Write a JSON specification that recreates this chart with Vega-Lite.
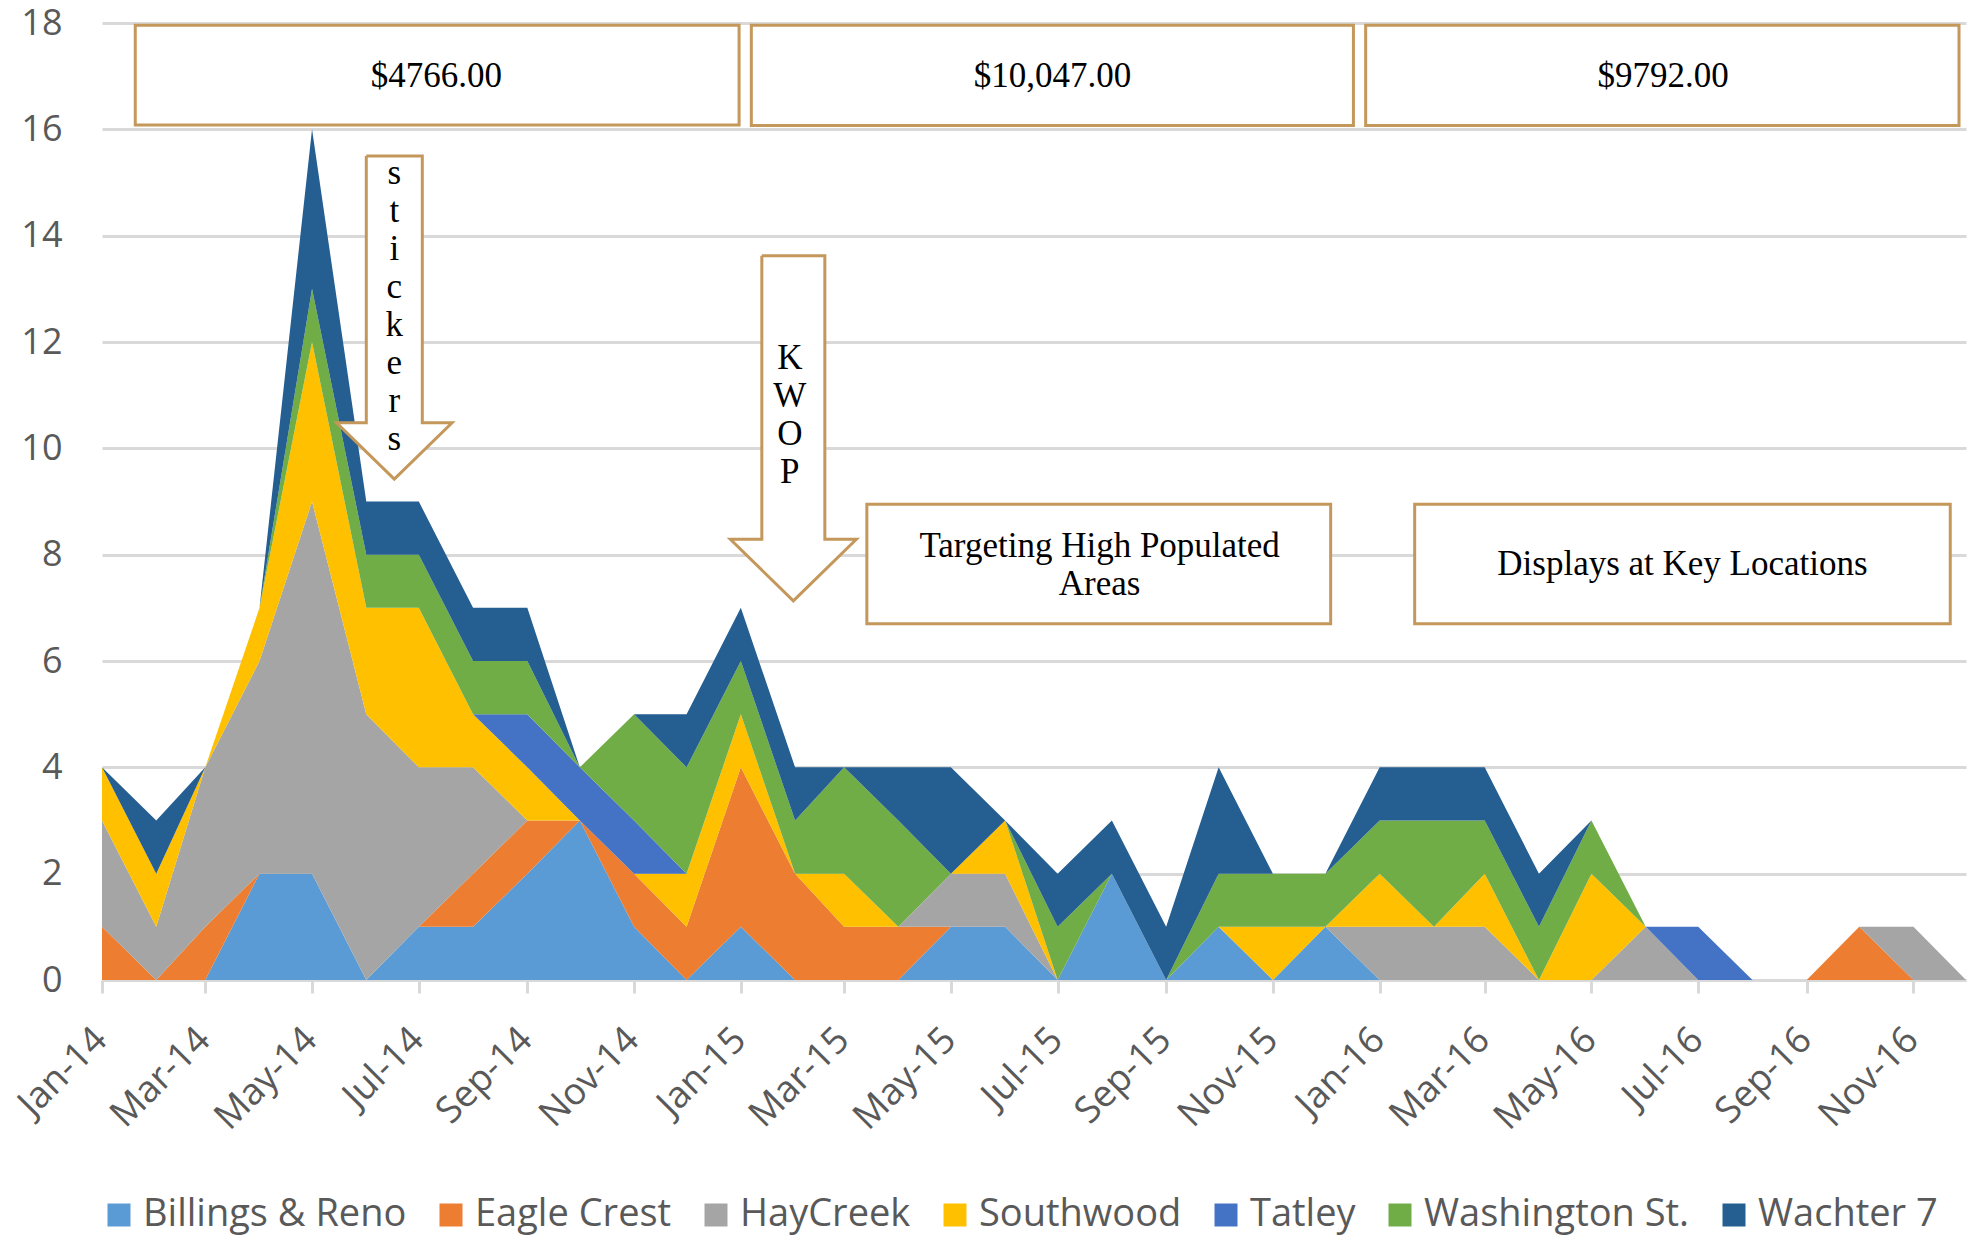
{
  "$schema": "https://vega.github.io/schema/vega-lite/v6.json",
  "width": 1864,
  "height": 957,
  "autosize": {"type": "none"},
  "padding": {"left": 102, "top": 23, "right": 6, "bottom": 266},
  "background": "white",
  "config": {"view": {"stroke": null}, "font": "Open Sans"},
  "datasets": {
    "counts": [
      {"month":"2014-01-01","site":"Billings & Reno","n":0},{"month":"2014-01-01","site":"Eagle Crest","n":1},{"month":"2014-01-01","site":"HayCreek","n":2},{"month":"2014-01-01","site":"Southwood","n":1},{"month":"2014-01-01","site":"Tatley","n":0},{"month":"2014-01-01","site":"Washington St.","n":0},{"month":"2014-01-01","site":"Wachter 7","n":0},
      {"month":"2014-02-01","site":"Billings & Reno","n":0},{"month":"2014-02-01","site":"Eagle Crest","n":0},{"month":"2014-02-01","site":"HayCreek","n":1},{"month":"2014-02-01","site":"Southwood","n":1},{"month":"2014-02-01","site":"Tatley","n":0},{"month":"2014-02-01","site":"Washington St.","n":0},{"month":"2014-02-01","site":"Wachter 7","n":1},
      {"month":"2014-03-01","site":"Billings & Reno","n":0},{"month":"2014-03-01","site":"Eagle Crest","n":1},{"month":"2014-03-01","site":"HayCreek","n":3},{"month":"2014-03-01","site":"Southwood","n":0},{"month":"2014-03-01","site":"Tatley","n":0},{"month":"2014-03-01","site":"Washington St.","n":0},{"month":"2014-03-01","site":"Wachter 7","n":0},
      {"month":"2014-04-01","site":"Billings & Reno","n":2},{"month":"2014-04-01","site":"Eagle Crest","n":0},{"month":"2014-04-01","site":"HayCreek","n":4},{"month":"2014-04-01","site":"Southwood","n":1},{"month":"2014-04-01","site":"Tatley","n":0},{"month":"2014-04-01","site":"Washington St.","n":0},{"month":"2014-04-01","site":"Wachter 7","n":0},
      {"month":"2014-05-01","site":"Billings & Reno","n":2},{"month":"2014-05-01","site":"Eagle Crest","n":0},{"month":"2014-05-01","site":"HayCreek","n":7},{"month":"2014-05-01","site":"Southwood","n":3},{"month":"2014-05-01","site":"Tatley","n":0},{"month":"2014-05-01","site":"Washington St.","n":1},{"month":"2014-05-01","site":"Wachter 7","n":3},
      {"month":"2014-06-01","site":"Billings & Reno","n":0},{"month":"2014-06-01","site":"Eagle Crest","n":0},{"month":"2014-06-01","site":"HayCreek","n":5},{"month":"2014-06-01","site":"Southwood","n":2},{"month":"2014-06-01","site":"Tatley","n":0},{"month":"2014-06-01","site":"Washington St.","n":1},{"month":"2014-06-01","site":"Wachter 7","n":1},
      {"month":"2014-07-01","site":"Billings & Reno","n":1},{"month":"2014-07-01","site":"Eagle Crest","n":0},{"month":"2014-07-01","site":"HayCreek","n":3},{"month":"2014-07-01","site":"Southwood","n":3},{"month":"2014-07-01","site":"Tatley","n":0},{"month":"2014-07-01","site":"Washington St.","n":1},{"month":"2014-07-01","site":"Wachter 7","n":1},
      {"month":"2014-08-01","site":"Billings & Reno","n":1},{"month":"2014-08-01","site":"Eagle Crest","n":1},{"month":"2014-08-01","site":"HayCreek","n":2},{"month":"2014-08-01","site":"Southwood","n":1},{"month":"2014-08-01","site":"Tatley","n":0},{"month":"2014-08-01","site":"Washington St.","n":1},{"month":"2014-08-01","site":"Wachter 7","n":1},
      {"month":"2014-09-01","site":"Billings & Reno","n":2},{"month":"2014-09-01","site":"Eagle Crest","n":1},{"month":"2014-09-01","site":"HayCreek","n":0},{"month":"2014-09-01","site":"Southwood","n":1},{"month":"2014-09-01","site":"Tatley","n":1},{"month":"2014-09-01","site":"Washington St.","n":1},{"month":"2014-09-01","site":"Wachter 7","n":1},
      {"month":"2014-10-01","site":"Billings & Reno","n":3},{"month":"2014-10-01","site":"Eagle Crest","n":0},{"month":"2014-10-01","site":"HayCreek","n":0},{"month":"2014-10-01","site":"Southwood","n":0},{"month":"2014-10-01","site":"Tatley","n":1},{"month":"2014-10-01","site":"Washington St.","n":0},{"month":"2014-10-01","site":"Wachter 7","n":0},
      {"month":"2014-11-01","site":"Billings & Reno","n":1},{"month":"2014-11-01","site":"Eagle Crest","n":1},{"month":"2014-11-01","site":"HayCreek","n":0},{"month":"2014-11-01","site":"Southwood","n":0},{"month":"2014-11-01","site":"Tatley","n":1},{"month":"2014-11-01","site":"Washington St.","n":2},{"month":"2014-11-01","site":"Wachter 7","n":0},
      {"month":"2014-12-01","site":"Billings & Reno","n":0},{"month":"2014-12-01","site":"Eagle Crest","n":1},{"month":"2014-12-01","site":"HayCreek","n":0},{"month":"2014-12-01","site":"Southwood","n":1},{"month":"2014-12-01","site":"Tatley","n":0},{"month":"2014-12-01","site":"Washington St.","n":2},{"month":"2014-12-01","site":"Wachter 7","n":1},
      {"month":"2015-01-01","site":"Billings & Reno","n":1},{"month":"2015-01-01","site":"Eagle Crest","n":3},{"month":"2015-01-01","site":"HayCreek","n":0},{"month":"2015-01-01","site":"Southwood","n":1},{"month":"2015-01-01","site":"Tatley","n":0},{"month":"2015-01-01","site":"Washington St.","n":1},{"month":"2015-01-01","site":"Wachter 7","n":1},
      {"month":"2015-02-01","site":"Billings & Reno","n":0},{"month":"2015-02-01","site":"Eagle Crest","n":2},{"month":"2015-02-01","site":"HayCreek","n":0},{"month":"2015-02-01","site":"Southwood","n":0},{"month":"2015-02-01","site":"Tatley","n":0},{"month":"2015-02-01","site":"Washington St.","n":1},{"month":"2015-02-01","site":"Wachter 7","n":1},
      {"month":"2015-03-01","site":"Billings & Reno","n":0},{"month":"2015-03-01","site":"Eagle Crest","n":1},{"month":"2015-03-01","site":"HayCreek","n":0},{"month":"2015-03-01","site":"Southwood","n":1},{"month":"2015-03-01","site":"Tatley","n":0},{"month":"2015-03-01","site":"Washington St.","n":2},{"month":"2015-03-01","site":"Wachter 7","n":0},
      {"month":"2015-04-01","site":"Billings & Reno","n":0},{"month":"2015-04-01","site":"Eagle Crest","n":1},{"month":"2015-04-01","site":"HayCreek","n":0},{"month":"2015-04-01","site":"Southwood","n":0},{"month":"2015-04-01","site":"Tatley","n":0},{"month":"2015-04-01","site":"Washington St.","n":2},{"month":"2015-04-01","site":"Wachter 7","n":1},
      {"month":"2015-05-01","site":"Billings & Reno","n":1},{"month":"2015-05-01","site":"Eagle Crest","n":0},{"month":"2015-05-01","site":"HayCreek","n":1},{"month":"2015-05-01","site":"Southwood","n":0},{"month":"2015-05-01","site":"Tatley","n":0},{"month":"2015-05-01","site":"Washington St.","n":0},{"month":"2015-05-01","site":"Wachter 7","n":2},
      {"month":"2015-06-01","site":"Billings & Reno","n":1},{"month":"2015-06-01","site":"Eagle Crest","n":0},{"month":"2015-06-01","site":"HayCreek","n":1},{"month":"2015-06-01","site":"Southwood","n":1},{"month":"2015-06-01","site":"Tatley","n":0},{"month":"2015-06-01","site":"Washington St.","n":0},{"month":"2015-06-01","site":"Wachter 7","n":0},
      {"month":"2015-07-01","site":"Billings & Reno","n":0},{"month":"2015-07-01","site":"Eagle Crest","n":0},{"month":"2015-07-01","site":"HayCreek","n":0},{"month":"2015-07-01","site":"Southwood","n":0},{"month":"2015-07-01","site":"Tatley","n":0},{"month":"2015-07-01","site":"Washington St.","n":1},{"month":"2015-07-01","site":"Wachter 7","n":1},
      {"month":"2015-08-01","site":"Billings & Reno","n":2},{"month":"2015-08-01","site":"Eagle Crest","n":0},{"month":"2015-08-01","site":"HayCreek","n":0},{"month":"2015-08-01","site":"Southwood","n":0},{"month":"2015-08-01","site":"Tatley","n":0},{"month":"2015-08-01","site":"Washington St.","n":0},{"month":"2015-08-01","site":"Wachter 7","n":1},
      {"month":"2015-09-01","site":"Billings & Reno","n":0},{"month":"2015-09-01","site":"Eagle Crest","n":0},{"month":"2015-09-01","site":"HayCreek","n":0},{"month":"2015-09-01","site":"Southwood","n":0},{"month":"2015-09-01","site":"Tatley","n":0},{"month":"2015-09-01","site":"Washington St.","n":0},{"month":"2015-09-01","site":"Wachter 7","n":1},
      {"month":"2015-10-01","site":"Billings & Reno","n":1},{"month":"2015-10-01","site":"Eagle Crest","n":0},{"month":"2015-10-01","site":"HayCreek","n":0},{"month":"2015-10-01","site":"Southwood","n":0},{"month":"2015-10-01","site":"Tatley","n":0},{"month":"2015-10-01","site":"Washington St.","n":1},{"month":"2015-10-01","site":"Wachter 7","n":2},
      {"month":"2015-11-01","site":"Billings & Reno","n":0},{"month":"2015-11-01","site":"Eagle Crest","n":0},{"month":"2015-11-01","site":"HayCreek","n":0},{"month":"2015-11-01","site":"Southwood","n":1},{"month":"2015-11-01","site":"Tatley","n":0},{"month":"2015-11-01","site":"Washington St.","n":1},{"month":"2015-11-01","site":"Wachter 7","n":0},
      {"month":"2015-12-01","site":"Billings & Reno","n":1},{"month":"2015-12-01","site":"Eagle Crest","n":0},{"month":"2015-12-01","site":"HayCreek","n":0},{"month":"2015-12-01","site":"Southwood","n":0},{"month":"2015-12-01","site":"Tatley","n":0},{"month":"2015-12-01","site":"Washington St.","n":1},{"month":"2015-12-01","site":"Wachter 7","n":0},
      {"month":"2016-01-01","site":"Billings & Reno","n":0},{"month":"2016-01-01","site":"Eagle Crest","n":0},{"month":"2016-01-01","site":"HayCreek","n":1},{"month":"2016-01-01","site":"Southwood","n":1},{"month":"2016-01-01","site":"Tatley","n":0},{"month":"2016-01-01","site":"Washington St.","n":1},{"month":"2016-01-01","site":"Wachter 7","n":1},
      {"month":"2016-02-01","site":"Billings & Reno","n":0},{"month":"2016-02-01","site":"Eagle Crest","n":0},{"month":"2016-02-01","site":"HayCreek","n":1},{"month":"2016-02-01","site":"Southwood","n":0},{"month":"2016-02-01","site":"Tatley","n":0},{"month":"2016-02-01","site":"Washington St.","n":2},{"month":"2016-02-01","site":"Wachter 7","n":1},
      {"month":"2016-03-01","site":"Billings & Reno","n":0},{"month":"2016-03-01","site":"Eagle Crest","n":0},{"month":"2016-03-01","site":"HayCreek","n":1},{"month":"2016-03-01","site":"Southwood","n":1},{"month":"2016-03-01","site":"Tatley","n":0},{"month":"2016-03-01","site":"Washington St.","n":1},{"month":"2016-03-01","site":"Wachter 7","n":1},
      {"month":"2016-04-01","site":"Billings & Reno","n":0},{"month":"2016-04-01","site":"Eagle Crest","n":0},{"month":"2016-04-01","site":"HayCreek","n":0},{"month":"2016-04-01","site":"Southwood","n":0},{"month":"2016-04-01","site":"Tatley","n":0},{"month":"2016-04-01","site":"Washington St.","n":1},{"month":"2016-04-01","site":"Wachter 7","n":1},
      {"month":"2016-05-01","site":"Billings & Reno","n":0},{"month":"2016-05-01","site":"Eagle Crest","n":0},{"month":"2016-05-01","site":"HayCreek","n":0},{"month":"2016-05-01","site":"Southwood","n":2},{"month":"2016-05-01","site":"Tatley","n":0},{"month":"2016-05-01","site":"Washington St.","n":1},{"month":"2016-05-01","site":"Wachter 7","n":0},
      {"month":"2016-06-01","site":"Billings & Reno","n":0},{"month":"2016-06-01","site":"Eagle Crest","n":0},{"month":"2016-06-01","site":"HayCreek","n":1},{"month":"2016-06-01","site":"Southwood","n":0},{"month":"2016-06-01","site":"Tatley","n":0},{"month":"2016-06-01","site":"Washington St.","n":0},{"month":"2016-06-01","site":"Wachter 7","n":0},
      {"month":"2016-07-01","site":"Billings & Reno","n":0},{"month":"2016-07-01","site":"Eagle Crest","n":0},{"month":"2016-07-01","site":"HayCreek","n":0},{"month":"2016-07-01","site":"Southwood","n":0},{"month":"2016-07-01","site":"Tatley","n":1},{"month":"2016-07-01","site":"Washington St.","n":0},{"month":"2016-07-01","site":"Wachter 7","n":0},
      {"month":"2016-08-01","site":"Billings & Reno","n":0},{"month":"2016-08-01","site":"Eagle Crest","n":0},{"month":"2016-08-01","site":"HayCreek","n":0},{"month":"2016-08-01","site":"Southwood","n":0},{"month":"2016-08-01","site":"Tatley","n":0},{"month":"2016-08-01","site":"Washington St.","n":0},{"month":"2016-08-01","site":"Wachter 7","n":0},
      {"month":"2016-09-01","site":"Billings & Reno","n":0},{"month":"2016-09-01","site":"Eagle Crest","n":0},{"month":"2016-09-01","site":"HayCreek","n":0},{"month":"2016-09-01","site":"Southwood","n":0},{"month":"2016-09-01","site":"Tatley","n":0},{"month":"2016-09-01","site":"Washington St.","n":0},{"month":"2016-09-01","site":"Wachter 7","n":0},
      {"month":"2016-10-01","site":"Billings & Reno","n":0},{"month":"2016-10-01","site":"Eagle Crest","n":1},{"month":"2016-10-01","site":"HayCreek","n":0},{"month":"2016-10-01","site":"Southwood","n":0},{"month":"2016-10-01","site":"Tatley","n":0},{"month":"2016-10-01","site":"Washington St.","n":0},{"month":"2016-10-01","site":"Wachter 7","n":0},
      {"month":"2016-11-01","site":"Billings & Reno","n":0},{"month":"2016-11-01","site":"Eagle Crest","n":0},{"month":"2016-11-01","site":"HayCreek","n":1},{"month":"2016-11-01","site":"Southwood","n":0},{"month":"2016-11-01","site":"Tatley","n":0},{"month":"2016-11-01","site":"Washington St.","n":0},{"month":"2016-11-01","site":"Wachter 7","n":0},
      {"month":"2016-12-01","site":"Billings & Reno","n":0},{"month":"2016-12-01","site":"Eagle Crest","n":0},{"month":"2016-12-01","site":"HayCreek","n":0},{"month":"2016-12-01","site":"Southwood","n":0},{"month":"2016-12-01","site":"Tatley","n":0},{"month":"2016-12-01","site":"Washington St.","n":0},{"month":"2016-12-01","site":"Wachter 7","n":0}
    ],
    "boxes": [
      {"x": "2014-01-20", "x2": "2014-12-31", "y": 17.96, "y2": 16.08},
      {"x": "2015-01-07", "x2": "2015-12-17", "y": 17.96, "y2": 16.07},
      {"x": "2015-12-24", "x2": "2016-11-27", "y": 17.96, "y2": 16.07},
      {"x": "2015-03-14", "x2": "2015-12-04", "y": 8.95, "y2": 6.70},
      {"x": "2016-01-21", "x2": "2016-11-22", "y": 8.95, "y2": 6.70}
    ],
    "arrows": [
      {"arrow": "stickers", "i": 0, "x": "2014-06-01", "y": 15.50},
      {"arrow": "stickers", "i": 1, "x": "2014-07-03", "y": 15.50},
      {"arrow": "stickers", "i": 2, "x": "2014-07-03", "y": 10.48},
      {"arrow": "stickers", "i": 3, "x": "2014-07-20", "y": 10.48},
      {"arrow": "stickers", "i": 4, "x": "2014-06-17", "y": 9.42},
      {"arrow": "stickers", "i": 5, "x": "2014-05-15", "y": 10.48},
      {"arrow": "stickers", "i": 6, "x": "2014-06-01", "y": 10.48},
      {"arrow": "stickers", "i": 7, "x": "2014-06-01", "y": 15.50},
      {"arrow": "KWOP", "i": 0, "x": "2015-01-13", "y": 13.62},
      {"arrow": "KWOP", "i": 1, "x": "2015-02-18", "y": 13.62},
      {"arrow": "KWOP", "i": 2, "x": "2015-02-18", "y": 8.29},
      {"arrow": "KWOP", "i": 3, "x": "2015-03-08", "y": 8.29},
      {"arrow": "KWOP", "i": 4, "x": "2015-01-31", "y": 7.13},
      {"arrow": "KWOP", "i": 5, "x": "2014-12-26", "y": 8.29},
      {"arrow": "KWOP", "i": 6, "x": "2015-01-13", "y": 8.29},
      {"arrow": "KWOP", "i": 7, "x": "2015-01-13", "y": 13.62}
    ],
    "notes": [
      {"text": "$4766.00", "x": "2014-07-11", "y": 17.0},
      {"text": "$10,047.00", "x": "2015-06-28", "y": 17.0},
      {"text": "$9792.00", "x": "2016-06-11", "y": 17.0},
      {"text": "Targeting High Populated\nAreas", "x": "2015-07-25", "y": 8.17},
      {"text": "Displays at Key Locations", "x": "2016-06-22", "y": 7.82},
      {"text": "s\nt\ni\nc\nk\ne\nr\ns", "x": "2014-06-17", "y": 15.18},
      {"text": "K\nW\nO\nP", "x": "2015-01-29", "y": 11.70}
    ]
  },
  "layer": [
    {
      "data": {"name": "counts"},
      "transform": [
        {"calculate": "indexof(['Billings & Reno','Eagle Crest','HayCreek','Southwood','Tatley','Washington St.','Wachter 7'], datum.site)", "as": "k"}
      ],
      "mark": {"type": "area", "interpolate": "linear", "strokeWidth": 0, "opacity": 1},
      "encoding": {
        "x": {
          "field": "month", "type": "temporal", "title": null,
          "scale": {"type": "utc", "domain": [{"year": 2014, "month": 1, "date": 1, "utc": true}, {"year": 2016, "month": 12, "date": 1, "utc": true}]},
          "axis": {
            "format": "%b-%y", "tickCount": {"interval": "month", "step": 2},
            "labelAngle": -45, "labelAlign": "right", "labelBaseline": "top", "labelPadding": 28, "labelOffset": -14,
            "tickSize": 13, "tickColor": "#d9d9d9", "tickWidth": 3,
            "domainColor": "#d9d9d9", "domainWidth": 3, "grid": false,
            "labelFont": "Open Sans", "labelFontSize": 37, "labelColor": "#595959",
            "labelOverlap": false, "labelFlush": false, "labelBound": false
          }
        },
        "y": {
          "field": "n", "type": "quantitative", "stack": "zero", "title": null,
          "scale": {"domain": [0, 18], "nice": false},
          "axis": {
            "values": [0, 2, 4, 6, 8, 10, 12, 14, 16, 18],
            "grid": true, "gridColor": "#d9d9d9", "gridWidth": 3,
            "domain": false, "ticks": false, "tickSize": 0,
            "labelFont": "Open Sans", "labelFontSize": 36, "labelColor": "#595959", "labelPadding": 40
          }
        },
        "color": {
          "field": "site", "type": "nominal",
          "scale": {
            "domain": ["Billings & Reno", "Eagle Crest", "HayCreek", "Southwood", "Tatley", "Washington St.", "Wachter 7"],
            "range": ["#5b9bd5", "#ed7d31", "#a5a5a5", "#ffc000", "#4472c4", "#70ad47", "#255e91"]
          },
          "legend": {
            "orient": "none", "legendX": -2, "legendY": 1173, "direction": "horizontal", "title": null,
            "symbolType": "square", "symbolSize": 529, "symbolStrokeWidth": 0, "symbolOpacity": 1,
            "labelFont": "Open Sans", "labelFontSize": 38, "labelColor": "#595959",
            "columnPadding": 25, "labelOffset": 5, "padding": 0, "labelLimit": 0
          }
        },
        "order": {"field": "k", "type": "quantitative", "sort": "ascending"}
      }
    },
    {
      "data": {"name": "boxes"},
      "mark": {"type": "rect", "fill": "white", "stroke": "#c4975a", "strokeWidth": 3},
      "encoding": {
        "x": {"field": "x", "type": "temporal", "scale": {"type": "utc"}, "title": null},
        "x2": {"field": "x2"},
        "y": {"field": "y", "type": "quantitative", "title": null},
        "y2": {"field": "y2"}
      }
    },
    {
      "data": {"name": "arrows"},
      "mark": {"type": "line", "fill": "white", "stroke": "#c4975a", "strokeWidth": 3, "strokeJoin": "miter", "interpolate": "linear"},
      "encoding": {
        "x": {"field": "x", "type": "temporal", "scale": {"type": "utc"}, "title": null},
        "y": {"field": "y", "type": "quantitative", "title": null},
        "detail": {"field": "arrow", "type": "nominal"},
        "order": {"field": "i", "type": "quantitative"}
      }
    },
    {
      "data": {"name": "notes"},
      "mark": {"type": "text", "font": "Liberation Serif", "fontSize": 35, "lineHeight": 38, "lineBreak": "\n", "color": "black", "align": "center", "baseline": "middle"},
      "encoding": {
        "x": {"field": "x", "type": "temporal", "scale": {"type": "utc"}, "title": null},
        "y": {"field": "y", "type": "quantitative", "title": null},
        "text": {"field": "text", "type": "nominal"}
      }
    }
  ]
}
